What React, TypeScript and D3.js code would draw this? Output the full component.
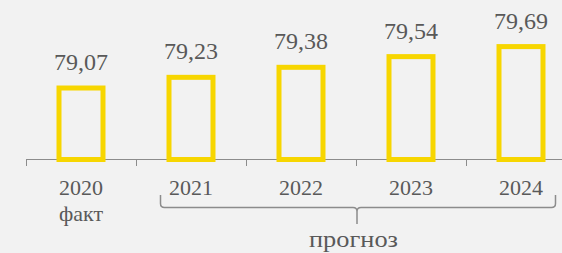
import React from 'react';
import * as d3 from 'd3';

const years = ['2020', '2021', '2022', '2023', '2024'];
const values = [79.07, 79.23, 79.38, 79.54, 79.69];
const subLabels = ['факт', '', '', '', ''];
const forecastLabel = 'прогноз';

const W = 562;
const H = 253;
const axisY = 159.5;
const FONT = 'Liberation Serif';
const TEXT = '#595959';
const GREY = '#8c8c8c';

const x = d3.scaleBand<string>().domain(years).range([26, 576]).padding(0);
const y = d3.scaleLinear().domain([78, 79.69]).range([axisY, 46.6]);
const cx = (d: string) => x(d)! + x.bandwidth() / 2;
const bw = 44;

// brace under the forecast years
const bracePath = () => {
  const x0 = 160.5, x1 = 555.5, mid = 357, by = 207.5, top = 195, bot = 224, r = 4;
  const p = d3.path();
  p.moveTo(x0, top);
  p.lineTo(x0, by - r);
  p.quadraticCurveTo(x0, by, x0 + r, by);
  p.lineTo(mid - r, by);
  p.quadraticCurveTo(mid, by, mid, by + r);
  p.lineTo(mid, bot);
  p.moveTo(mid, by + r);
  p.quadraticCurveTo(mid, by, mid + r, by);
  p.lineTo(x1 - r, by);
  p.quadraticCurveTo(x1, by, x1, by - r);
  p.lineTo(x1, top);
  return p.toString();
};

const App: React.FC = () => (
  <svg
    width={W}
    height={H}
    style={{ position: 'absolute', left: 0, top: 0, display: 'block' }}
  >
    <rect width={W} height={H} fill="#f2f2f2" />
    <line x1={26} x2={W} y1={axisY} y2={axisY} stroke={GREY} strokeWidth={1} />
    {years.map(d => (
      <line
        key={'t' + d}
        x1={Math.round(x(d)!) + 0.5}
        x2={Math.round(x(d)!) + 0.5}
        y1={axisY}
        y2={166}
        stroke={GREY}
        strokeWidth={1}
      />
    ))}
    {years.map((d, i) => (
      <rect
        key={'b' + d}
        x={cx(d) - bw / 2}
        width={bw}
        y={y(values[i])}
        height={y(78) - y(values[i])}
        fill="none"
        stroke="#f7d600"
        strokeWidth={5}
      />
    ))}
    {years.map((d, i) => (
      <text
        key={'v' + d}
        x={cx(d)}
        y={y(values[i]) - 18}
        textAnchor="middle"
        fontFamily={FONT}
        fontSize={24}
        fill={TEXT}
      >
        {values[i].toFixed(2).replace('.', ',')}
      </text>
    ))}
    {years.map(d => (
      <text key={'y' + d} x={cx(d)} y={195} textAnchor="middle" fontFamily={FONT} fontSize={22} fill={TEXT}>
        {d}
      </text>
    ))}
    {years.map((d, i) =>
      subLabels[i] ? (
        <text key={'s' + d} x={cx(d)} y={221} textAnchor="middle" fontFamily={FONT} fontSize={22} fill={TEXT}>
          {subLabels[i]}
        </text>
      ) : null
    )}
    <path d={bracePath()} fill="none" stroke={GREY} strokeWidth={1.5} />
    <text
      x={353.5}
      y={247}
      textAnchor="middle"
      fontFamily={FONT}
      fontSize={23}
      fill={TEXT}
      textLength={89}
      lengthAdjust="spacingAndGlyphs"
    >
      {forecastLabel}
    </text>
  </svg>
);

export default App;
